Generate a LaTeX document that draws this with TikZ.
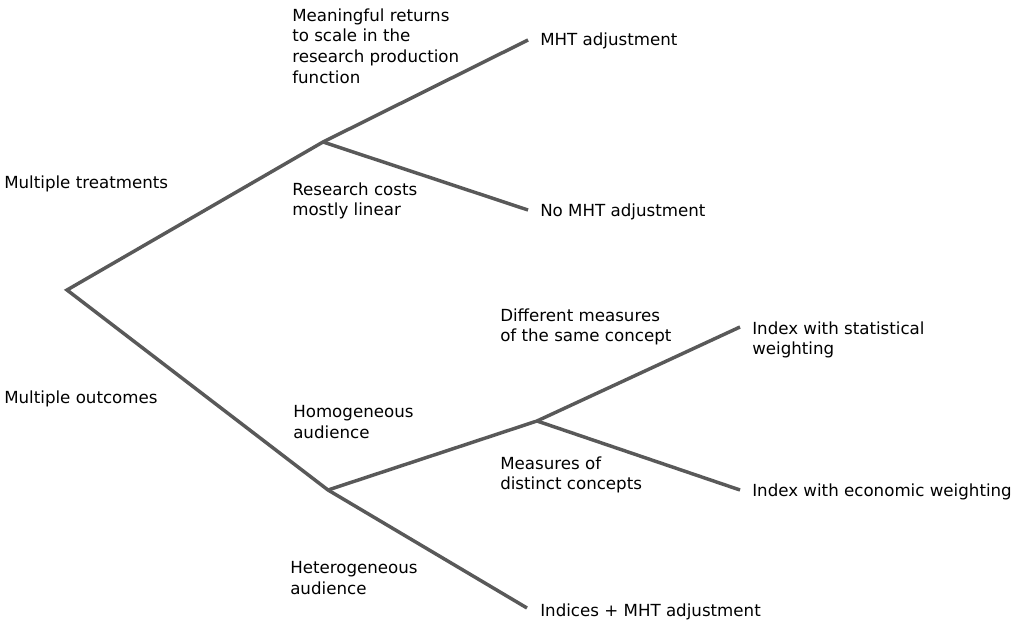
\documentclass[tikz,border=0pt]{standalone}
\usepackage{fontspec}
\setmainfont{DejaVu Sans}
\usepackage{xcolor}

\definecolor{branchgray}{HTML}{595959}

\begin{document}
\begin{tikzpicture}[x=0.75pt,y=-0.75pt,
  branch/.style={draw=branchgray,line width=2.6pt},
  lbl/.style={anchor=west,inner sep=0pt,align=left,font=\fontsize{12.5}{15.5}\selectfont}]
\useasboundingbox (0,0) rectangle (1022,620);
% branch points and ends
\coordinate (root) at (67,290);
\coordinate (treat) at (323,142);
\coordinate (mht) at (528,40);
\coordinate (nomht) at (528,210);
\coordinate (outc) at (328,490);
\coordinate (homog) at (537,421);
\coordinate (stat) at (740,327);
\coordinate (econ) at (740,490);
\coordinate (indic) at (527,608);
% tree
\draw[branch] (mht) -- (treat) -- (root) -- (outc) -- (indic);
\draw[branch] (treat) -- (nomht);
\draw[branch] (outc) -- (homog) -- (stat);
\draw[branch] (homog) -- (econ);
% labels
\node[lbl] (lmt) at (4,184) {Multiple treatments};
\node[lbl] (lmo) at (4,399) {Multiple outcomes};
\node[lbl] (lret) at (292,46) {Meaningful returns\\to scale in the\\research production\\function};
\node[lbl] (lcost) at (292,201) {Research costs\\mostly linear};
\node[lbl] (lmht) at (540,41) {MHT adjustment};
\node[lbl] (lnomht) at (540,212) {No MHT adjustment};
\node[lbl] (lhom) at (293,422) {Homogeneous\\audience};
\node[lbl] (lhet) at (290,578) {Heterogeneous\\audience};
\node[lbl] (ldiff) at (500,327) {Different measures\\of the same concept};
\node[lbl] (ldist) at (500,475) {Measures of\\distinct concepts};
\node[lbl] (lstat) at (752,340) {Index with statistical\\weighting};
\node[lbl] (lecon) at (752,492) {Index with economic weighting};
\node[lbl] (lind) at (540,612) {Indices + MHT adjustment};
\end{tikzpicture}
\end{document}
